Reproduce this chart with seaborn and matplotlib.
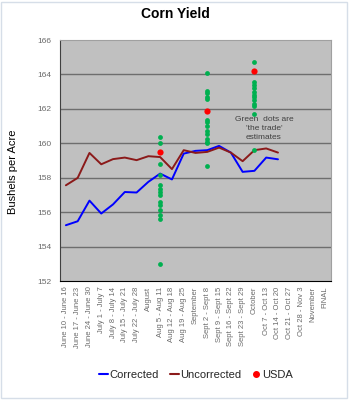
import numpy as np
import pandas as pd
import matplotlib
matplotlib.use("Agg")
import matplotlib.pyplot as plt
from matplotlib.lines import Line2D
import seaborn as sns

categories = ["June 10 - June 16", "June 17 - June 23", "June 24 - June 30",
              "July 1 - July 7", "July 8 - July 14", "July 15 - July 21",
              "July 22 - July 28", "August", "Aug 5 - Aug 11", "Aug 12 - Aug 18",
              "Aug 19 - Aug 25", "September", "Sept 2 - Sept 8", "Sept 9 - Sept 15",
              "Sept 16 - Sept 22", "Sept 23 - Sept 29", "October", "Oct 7 - Oct 13",
              "Oct 14 - Oct 20", "Oct 21 - Oct 27", "Oct 28 - Nov 3", "November", "FINAL"]

corrected = [155.24, 155.47, 156.67, 155.92, 156.45, 157.17, 157.14, 157.76, 158.24,
             157.90, 159.40, 159.56, 159.60, 159.85, 159.46, 158.34, 158.40, 159.17, 159.07]
uncorrected = [157.56, 157.99, 159.44, 158.78, 159.08, 159.17, 159.02, 159.25, 159.20,
               158.50, 159.60, 159.44, 159.50, 159.75, 159.46, 158.96, 159.60, 159.70, 159.46]

usda_cats = ["Aug 5 - Aug 11", "Sept 2 - Sept 8", "October"]
usda_vals = [159.50, 161.88, 164.19]

trade_aug = [160.34, 160.02, 158.82, 158.15, 157.56, 157.37, 157.18, 156.98,
             156.59, 156.40, 156.11, 155.82, 155.63, 152.97]
trade_sep = [164.09, 163.03, 162.90, 162.70, 162.55, 161.38, 161.24, 160.99, 160.70,
             160.53, 160.24, 160.08, 159.99, 158.67]
trade_oct = [164.73, 163.55, 163.38, 163.19, 163.00, 162.80, 162.66, 162.50, 162.31,
             162.17, 161.73, 159.60]

yticks = [152, 154, 156, 158, 160, 162, 164, 166]

sns.set_style("white")
plt.rcParams['font.family'] = ['Liberation Sans', 'DejaVu Sans']

pos = {c: i for i, c in enumerate(categories)}
lines_df = pd.DataFrame({
    "x": list(range(len(corrected))) * 2,
    "y": corrected + uncorrected,
    "series": ["Corrected"] * len(corrected) + ["Uncorrected"] * len(uncorrected),
})
trade_df = pd.DataFrame({
    "x": [pos["Aug 5 - Aug 11"]] * len(trade_aug) + [pos["Sept 2 - Sept 8"]] * len(trade_sep)
         + [pos["October"]] * len(trade_oct),
    "y": trade_aug + trade_sep + trade_oct,
})
usda_df = pd.DataFrame({"x": [pos[c] for c in usda_cats], "y": usda_vals})

fig = plt.figure(figsize=(3.5, 4.0), dpi=100)
fig.patch.set_facecolor("white")
ax = fig.add_axes([60/350, 1 - 281/400, 271/350, 241/400])
ax.set_facecolor("#C0C0C0")

for v in yticks[1:-1]:
    ax.axhline(v, color="#6E6E6E", lw=1.0, zorder=1)

sns.lineplot(data=lines_df, x="x", y="y", hue="series",
             palette={"Corrected": "#0000FF", "Uncorrected": "#8B1A1A"},
             lw=1.4, ax=ax, legend=False, zorder=3, sort=False)
sns.scatterplot(data=trade_df, x="x", y="y", color="#00B050", s=12,
                linewidth=0, ax=ax, zorder=4, legend=False)
sns.scatterplot(data=usda_df, x="x", y="y", color="#FF0000", s=20,
                linewidth=0, ax=ax, zorder=5, legend=False)

ax.set_xlim(-0.5, len(categories) - 0.5)
ax.set_ylim(152, 166)
ax.set_yticks(yticks)
ax.set_yticklabels([str(v) for v in yticks], fontsize=6, color="#6A6A6A")
ax.set_xticks(range(len(categories)))
ax.set_xticklabels(categories, rotation=90, fontsize=5.5, color="#6A6A6A")
ax.set_xticks(np.arange(-0.5, len(categories), 1.0), minor=True)
ax.tick_params(axis="x", which="major", length=0, pad=4)
ax.tick_params(axis="x", which="minor", length=3, width=0.8, color="black", direction="out")
ax.tick_params(axis="y", which="major", length=3, width=0.8, color="#404040", direction="out", pad=3)
ax.set_xlabel("")
ax.set_ylabel("")

for s in ["top", "right"]:
    ax.spines[s].set_color("#A0A0A0")
    ax.spines[s].set_linewidth(0.8)
ax.spines["left"].set_color("#404040")
ax.spines["bottom"].set_color("black")
ax.spines["left"].set_linewidth(0.8)
ax.spines["bottom"].set_linewidth(0.8)

fig.text(175/350, 1 - 14/400, "Corn Yield", ha="center", va="center",
         fontsize=10, fontweight="bold", color="black")
fig.text(13/350, 1 - 172/400, "Bushels per Acre", rotation=90, ha="center",
         va="center", fontsize=8, color="black")

ax.text(pos["October"] + 0.8, 160.85, "Green  dots are\n'the trade'\nestimates",
        ha="center", va="center", fontsize=6, color="#404040", linespacing=1.35, zorder=6)

handles = [Line2D([], [], color="#0000FF", lw=1.5),
           Line2D([], [], color="#8B1A1A", lw=1.5),
           Line2D([], [], color="#FF0000", lw=0, marker="o", markersize=4)]
fig.legend(handles, ["Corrected", "Uncorrected", "USDA"], loc="center",
           bbox_to_anchor=(196/350, 1 - 375/400), ncol=3, frameon=False,
           fontsize=8, handlelength=0.8, handletextpad=0.1, columnspacing=1.0)

border = plt.Rectangle((0.003, 0.006), 0.988, 0.99, transform=fig.transFigure,
                       fill=False, edgecolor="#D6DEE8", lw=1.0)
fig.patches.append(border)

fig.savefig("out.png", dpi=100, facecolor="white")
